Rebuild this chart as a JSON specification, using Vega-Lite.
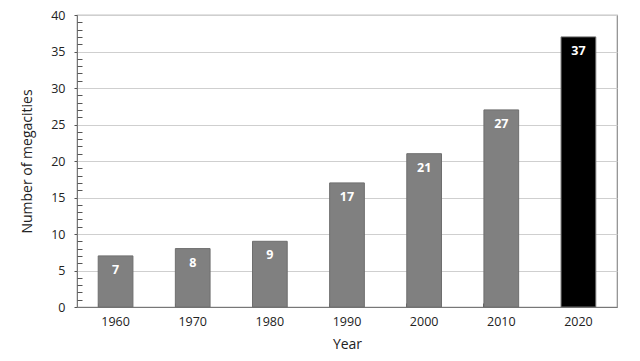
{
  "$schema": "https://vega.github.io/schema/vega-lite/v6.json",
  "autosize": {"type": "none"},
  "padding": {"left": 77, "top": 15, "right": 23, "bottom": 54},
  "width": 540,
  "height": 292,
  "background": "white",
  "config": {
    "font": "Open Sans",
    "view": {"stroke": "#8c8c8c", "strokeWidth": 1.2},
    "axis": {"labelFont": "Open Sans", "titleFont": "Open Sans", "labelColor": "#222", "titleColor": "#222", "labelFontSize": 12.5, "titleFontSize": 14, "titleFontWeight": "normal", "domainColor": "#777", "tickColor": "#555"}
  },
  "data": {"values": [
    {"year": "1960", "count": 7},
    {"year": "1970", "count": 8},
    {"year": "1980", "count": 9},
    {"year": "1990", "count": 17},
    {"year": "2000", "count": 21},
    {"year": "2010", "count": 27},
    {"year": "2020", "count": 37}
  ]},
  "encoding": {
    "x": {"field": "year", "type": "ordinal", "scale": {"paddingInner": 0.55, "paddingOuter": 0.275},
      "axis": {"title": "Year", "labelAngle": 0, "bandPosition": 0, "tickSize": -4, "labelPadding": 12, "titlePadding": 10, "domain": true}}
  },
  "layer": [
    {
      "mark": {"type": "bar", "stroke": "#6e6e6e", "strokeWidth": 1},
      "encoding": {
        "y": {"field": "count", "type": "quantitative", "scale": {"domain": [0, 40]},
          "axis": {"title": "Number of megacities", "values": [0,5,10,15,20,25,30,35,40], "grid": true, "gridColor": "#cfcfcf", "tickSize": 3, "labelPadding": 9, "titlePadding": 16, "orient": "left"}},
        "color": {"condition": {"test": "datum.year == '2020'", "value": "#000000"}, "value": "#808080"}
      }
    },
    {
      "mark": {"type": "text", "color": "white", "fontWeight": "bold", "fontSize": 12.5, "baseline": "top", "dy": 8},
      "encoding": {
        "y": {"field": "count", "type": "quantitative",
          "axis": {"orient": "right", "offset": -540, "title": null, "labels": false, "grid": false, "domain": false, "tickSize": 5, "values": [1,2,3,4,6,7,8,9,11,12,13,14,16,17,18,19,21,22,23,24,26,27,28,29,31,32,33,34,36,37,38,39]}},
        "text": {"field": "count", "type": "quantitative"}
      }
    }
  ],
  "resolve": {"axis": {"y": "independent"}}
}
